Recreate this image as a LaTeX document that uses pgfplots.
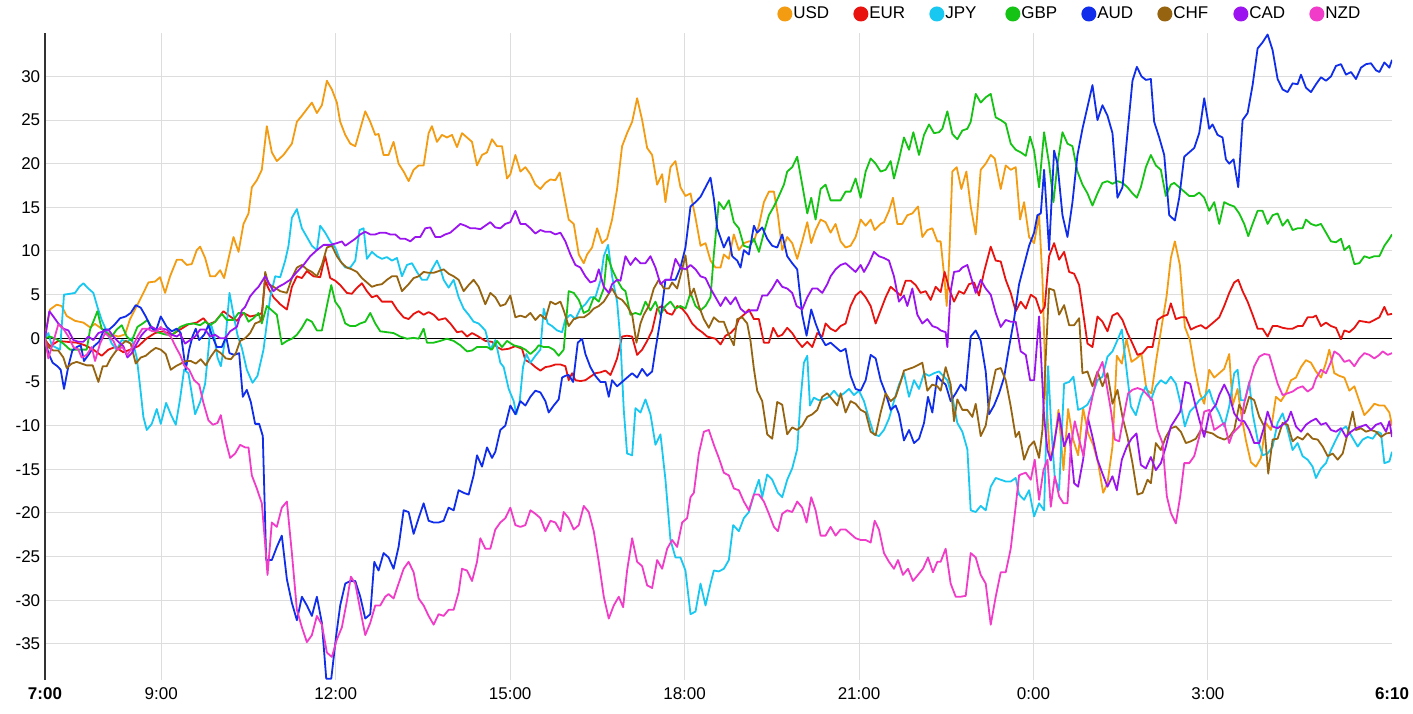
\documentclass[border=0pt]{standalone}
\usepackage{pgfplots}
\pgfplotsset{compat=1.18}
\usepackage{fontspec}
\setmainfont{Liberation Sans}
\definecolor{usd}{RGB}{243,156,18}
\definecolor{eur}{RGB}{232,18,15}
\definecolor{jpy}{RGB}{24,200,240}
\definecolor{gbp}{RGB}{20,195,20}
\definecolor{aud}{RGB}{15,45,235}
\definecolor{chf}{RGB}{150,100,16}
\definecolor{cad}{RGB}{155,20,240}
\definecolor{nzd}{RGB}{240,60,200}
\definecolor{gridgray}{RGB}{221,221,221}
\definecolor{axisgray}{RGB}{51,51,51}
\begin{document}
\begin{tikzpicture}
\useasboundingbox (0,0) rectangle (706.5pt,356.5pt);
\begin{axis}[
  at={(22.5pt,16.5pt)}, anchor=south west,
  scale only axis, width=673.5pt, height=323.5pt,
  xmin=0, xmax=23.1667, ymin=-39.14, ymax=34.97,
  axis x line*=bottom, axis y line*=left,
  x axis line style={draw=none},
  y axis line style={draw=axisgray, line width=0.8pt, -},
  major tick length=0pt,
  xtick={2,5,8,11,14,17,20},
  xticklabels={9:00,12:00,15:00,18:00,21:00,0:00,3:00},
  extra x ticks={0,23.1667},
  extra x tick labels={\textbf{7:00},\textbf{6:10}},
  extra x tick style={grid=none},
  ytick={-35,-30,-25,-20,-15,-10,-5,5,10,15,20,25,30},
  yticklabels={-35,-30,-25,-20,-15,-10,-5,5,10,15,20,25,30},
  extra y ticks={0}, extra y tick labels={0},
  extra y tick style={grid=major, major grid style={black, line width=0.5pt}},
  grid=major, major grid style={gridgray, line width=0.5pt},
  tick label style={font=\fontsize{8.5}{10}\selectfont},
  yticklabel style={anchor=east, inner sep=0pt, xshift=-2.2pt},
  xticklabel style={anchor=north, inner sep=0pt, yshift=-3.5pt},
  no markers,
  every axis plot/.append style={line width=0.9pt, line join=round},
  legend columns=-1,
  legend style={at={(0.5437,1.0294)}, anchor=west, draw=none, fill=none,
    inner sep=0pt, outer sep=0pt, column sep=0pt, row sep=0pt,
    nodes={inner sep=0pt, outer sep=0pt, text width=30.5pt, align=left, anchor=west,
      font=\fontsize{8.5}{10}\selectfont}},
  legend image code/.code={\fill[#1] (3.25pt,0pt) circle (3.3pt);},
]
% USD
\addplot[color=usd] coordinates {(0,0.2)(0.086,3.3)(0.2,3.85)(0.287,3.7)(0.373,2.56)(0.516,2.0)(0.66,1.8)(0.775,1.26)(0.86,1.64)(0.975,1.1)(1.119,0.45)(1.262,0.2)(1.377,0.45)(1.463,2.2)(1.578,3.7)(1.692,5.2)(1.779,6.4)(1.893,6.5)(1.979,7.0)(2.065,5.2)(2.151,7.1)(2.266,9.0)(2.352,9.0)(2.438,8.4)(2.524,8.5)(2.610,10.1)(2.668,10.5)(2.754,9.2)(2.840,7.1)(2.926,7.1)(3.012,7.8)(3.081,6.9)(3.155,9.1)(3.242,11.6)(3.328,9.9)(3.414,13.1)(3.500,14.3)(3.557,17.3)(3.643,18.1)(3.729,19.3)(3.815,24.3)(3.901,21.3)(3.987,20.3)(4.102,21.0)(4.246,22.3)(4.332,24.8)(4.418,25.5)(4.590,27.0)(4.676,25.8)(4.762,26.7)(4.848,29.5)(4.934,28.5)(5.020,27.0)(5.077,24.8)(5.164,23.3)(5.250,22.3)(5.336,22.0)(5.422,24.0)(5.508,26.0)(5.594,24.8)(5.680,23.3)(5.737,23.4)(5.823,21.0)(5.909,21.0)(5.995,22.5)(6.081,20.0)(6.168,19.1)(6.254,18.0)(6.340,19.3)(6.426,19.8)(6.512,19.8)(6.598,23.5)(6.655,24.3)(6.741,22.5)(6.827,23.3)(6.913,23.0)(7.000,23.3)(7.086,21.9)(7.172,23.5)(7.258,23.0)(7.344,22.5)(7.430,19.8)(7.516,21.0)(7.602,21.3)(7.688,22.8)(7.774,22.0)(7.860,22.0)(7.946,18.3)(8.003,18.8)(8.090,21.0)(8.176,19.1)(8.262,19.6)(8.348,18.8)(8.434,17.6)(8.520,17.1)(8.606,17.8)(8.692,18.2)(8.778,18.1)(8.853,19.0)(8.921,16.6)(9.007,13.6)(9.094,13.1)(9.180,9.6)(9.266,8.6)(9.323,9.6)(9.409,10.4)(9.495,12.6)(9.581,10.9)(9.667,11.4)(9.753,13.6)(9.839,17.1)(9.925,22.0)(10.011,23.5)(10.098,24.8)(10.184,27.5)(10.270,25.0)(10.356,21.8)(10.442,21.0)(10.528,17.6)(10.614,18.8)(10.671,15.6)(10.757,19.6)(10.843,20.3)(10.929,17.3)(11.015,16.3)(11.102,16.6)(11.188,13.8)(11.274,10.6)(11.360,10.9)(11.446,8.9)(11.532,8.1)(11.618,8.1)(11.675,9.6)(11.761,9.1)(11.847,11.9)(11.933,10.1)(12.019,10.9)(12.106,11.1)(12.192,11.1)(12.278,12.9)(12.364,15.6)(12.450,16.8)(12.536,16.8)(12.605,14.1)(12.679,10.1)(12.765,11.6)(12.851,10.9)(12.937,9.1)(13.023,11.1)(13.110,13.3)(13.178,10.9)(13.253,12.4)(13.339,13.6)(13.425,13.3)(13.511,12.1)(13.597,13.1)(13.683,11.1)(13.769,10.4)(13.855,10.6)(13.941,11.6)(14.028,13.6)(14.114,12.9)(14.200,13.6)(14.269,12.4)(14.372,13.1)(14.429,13.3)(14.515,14.6)(14.584,16.1)(14.659,13.1)(14.745,13.1)(14.831,14.1)(14.917,14.3)(15.014,15.1)(15.089,11.6)(15.175,12.4)(15.261,12.6)(15.347,11.1)(15.404,11.1)(15.473,6.6)(15.508,3.7)(15.548,8.6)(15.605,19.1)(15.680,19.6)(15.760,17.1)(15.846,19.1)(15.921,15.1)(16.007,11.9)(16.093,19.3)(16.179,20.0)(16.265,21.0)(16.334,20.6)(16.437,17.1)(16.523,19.8)(16.609,19.3)(16.695,19.6)(16.770,13.6)(16.839,15.6)(16.925,11.6)(17.011,10.9)(17.097,14.1)(17.155,6.7)(17.212,-5.9)(17.286,-13.9)(17.355,-12.4)(17.430,-8.2)(17.516,-15.1)(17.596,-8.1)(17.682,-11.6)(17.768,-13.4)(17.854,-8.0)(17.940,-10.9)(18.027,-12.2)(18.113,-14.3)(18.199,-17.7)(18.273,-16.6)(18.359,-12.4)(18.434,-2.0)(18.520,-2.9)(18.600,-0.1)(18.686,-2.7)(18.772,-2.3)(18.858,-1.8)(18.944,-5.9)(19.030,-6.3)(19.116,-2.3)(19.203,1.3)(19.289,4.8)(19.363,9.2)(19.432,11.1)(19.518,8.4)(19.604,1.3)(19.690,-0.2)(19.776,-3.6)(19.862,-6.3)(19.937,-7.5)(20.023,-3.6)(20.109,-4.5)(20.195,-4.0)(20.281,-3.5)(20.367,-1.8)(20.425,-7.7)(20.511,-5.8)(20.568,-8.5)(20.654,-11.7)(20.740,-14.2)(20.826,-14.7)(20.912,-13.7)(20.998,-9.7)(21.084,-10.5)(21.170,-6.7)(21.256,-7.2)(21.343,-6.3)(21.429,-4.8)(21.515,-4.5)(21.601,-3.3)(21.687,-2.5)(21.773,-2.8)(21.859,-3.8)(21.945,-4.5)(22.031,-2.8)(22.088,-1.3)(22.174,-4.0)(22.261,-4.3)(22.347,-4.5)(22.433,-6.0)(22.519,-5.5)(22.605,-7.2)(22.691,-8.8)(22.777,-8.2)(22.863,-7.5)(22.949,-7.7)(23.035,-7.7)(23.121,-8.5)(23.167,-10.0)};
\addlegendentry{\hspace*{0.5pt}USD}
% EUR
\addplot[color=eur] coordinates {(0,-0.2)(0.086,-0.9)(0.229,-0.3)(0.373,-0.4)(0.545,-0.5)(0.688,-0.8)(0.832,-1.3)(0.975,-2.0)(1.090,-1.3)(1.205,-1.0)(1.348,-1.6)(1.463,-1.3)(1.606,-0.9)(1.750,0)(1.893,0.6)(2.037,0.8)(2.180,0.4)(2.324,1.0)(2.467,1.6)(2.610,1.8)(2.725,2.3)(2.811,1.6)(2.926,1.9)(3.069,3.1)(3.184,2.5)(3.299,2.0)(3.414,2.9)(3.528,2.5)(3.672,2.7)(3.729,2.9)(3.787,6.6)(3.844,5.7)(3.930,4.7)(4.045,3.9)(4.160,3.3)(4.246,5.9)(4.332,7.1)(4.418,6.9)(4.504,7.7)(4.618,7.1)(4.733,7.0)(4.819,9.4)(4.905,6.9)(4.991,6.6)(5.077,6.1)(5.192,5.2)(5.278,5.1)(5.353,5.7)(5.450,6.3)(5.536,5.4)(5.622,4.7)(5.709,4.9)(5.795,4.2)(5.881,4.2)(5.967,4.2)(6.053,3.3)(6.168,2.4)(6.254,2.2)(6.340,2.8)(6.426,3.1)(6.512,2.7)(6.598,3.0)(6.684,2.7)(6.770,2.1)(6.885,2.3)(6.971,1.7)(7.086,0.7)(7.172,0.8)(7.258,0.2)(7.344,0.6)(7.430,0.3)(7.573,-0.3)(7.688,-0.4)(7.774,-1.0)(7.860,-1.3)(7.975,-1.2)(8.090,-0.9)(8.204,-1.2)(8.262,-2.5)(8.348,-2.8)(8.434,-3.3)(8.520,-3.7)(8.606,-3.3)(8.692,-3.2)(8.778,-3.0)(8.864,-3.0)(8.950,-3.2)(9.007,-4.8)(9.065,-4.0)(9.122,-4.8)(9.208,-4.9)(9.294,-4.8)(9.380,-4.4)(9.466,-4.0)(9.552,-3.9)(9.639,-3.7)(9.725,-4.2)(9.782,-3.3)(9.839,-2.3)(9.925,0.2)(10.011,0.3)(10.098,0.2)(10.184,-1.9)(10.270,-1.3)(10.356,-0.3)(10.442,0.9)(10.528,3.4)(10.614,3.7)(10.700,2.9)(10.786,2.7)(10.872,3.7)(10.958,3.4)(11.044,2.7)(11.130,1.7)(11.216,1.1)(11.302,0.7)(11.388,0.2)(11.532,-0.05)(11.618,-0.7)(11.704,0.3)(11.790,0.6)(11.876,1.2)(11.933,2.2)(12.019,2.7)(12.106,3.3)(12.192,2.2)(12.278,2.2)(12.364,-0.5)(12.450,-0.5)(12.524,1.2)(12.605,0.2)(12.679,0.4)(12.765,1.2)(12.851,0.6)(12.937,-0.3)(13.023,-1.0)(13.110,-0.4)(13.196,-1.0)(13.282,0.6)(13.368,0.2)(13.425,1.7)(13.511,1.1)(13.597,0.8)(13.683,1.4)(13.769,1.7)(13.855,3.7)(13.941,4.9)(14.028,5.4)(14.114,4.7)(14.200,3.7)(14.286,1.7)(14.372,3.2)(14.458,4.7)(14.544,5.9)(14.630,5.4)(14.716,4.9)(14.802,6.6)(14.888,6.6)(14.974,6.1)(15.060,5.2)(15.146,5.4)(15.232,4.4)(15.318,5.9)(15.404,5.3)(15.473,7.6)(15.548,5.7)(15.634,4.2)(15.720,5.4)(15.806,5.1)(15.892,6.2)(15.978,6.4)(16.064,4.9)(16.150,7.6)(16.265,10.5)(16.351,8.9)(16.437,8.8)(16.523,6.7)(16.609,5.2)(16.695,3.1)(16.781,4.2)(16.868,3.4)(16.954,5.0)(17.040,4.6)(17.126,2.9)(17.194,3.6)(17.269,9.4)(17.355,10.9)(17.441,9.0)(17.527,9.9)(17.614,7.6)(17.700,7.4)(17.786,6.1)(17.872,2.1)(17.929,-0.6)(18.015,-1.0)(18.101,2.5)(18.187,1.9)(18.273,0.8)(18.359,2.6)(18.445,2.9)(18.531,2.1)(18.617,0.6)(18.703,-0.6)(18.789,-1.9)(18.876,-1.7)(18.962,-1.0)(19.048,-1.0)(19.134,2.1)(19.220,2.5)(19.306,2.7)(19.363,4.0)(19.449,2.2)(19.535,2.4)(19.621,2.4)(19.707,1.0)(19.793,1.3)(19.880,1.5)(19.966,1.1)(20.109,1.9)(20.195,2.4)(20.281,3.7)(20.367,5.2)(20.453,6.4)(20.522,6.7)(20.597,5.4)(20.683,4.2)(20.769,2.7)(20.855,1.1)(20.941,1.1)(21.027,0.2)(21.113,1.4)(21.199,1.4)(21.285,1.2)(21.371,1.1)(21.457,1.1)(21.543,1.4)(21.629,1.4)(21.715,2.4)(21.801,2.4)(21.859,2.6)(21.945,1.4)(22.031,1.8)(22.117,1.4)(22.203,1.2)(22.289,-0.1)(22.347,0.9)(22.433,0.7)(22.519,1.2)(22.605,2.0)(22.691,1.9)(22.777,1.8)(22.863,2.1)(22.949,2.4)(23.035,3.6)(23.093,2.7)(23.167,2.8)};
\addlegendentry{\hspace*{0.5pt}EUR}
% JPY
\addplot[color=jpy] coordinates {(0,0)(0.057,0.6)(0.115,-0.8)(0.2,-1.1)(0.258,-1.3)(0.327,5.0)(0.430,5.1)(0.516,5.2)(0.591,5.9)(0.660,6.3)(0.746,5.7)(0.832,5.2)(0.901,3.6)(0.975,2.1)(1.061,0.8)(1.147,-0.6)(1.233,-1.3)(1.320,-0.2)(1.417,-0.4)(1.492,0)(1.578,-2.2)(1.635,-5.5)(1.692,-9.0)(1.750,-10.5)(1.836,-9.8)(1.922,-8.1)(1.991,-9.8)(2.083,-7.4)(2.169,-8.8)(2.249,-9.9)(2.324,-6.9)(2.392,-3.6)(2.467,-4.0)(2.582,-8.7)(2.668,-7.3)(2.754,-5.2)(2.811,-1.3)(2.851,1.7)(2.909,0.4)(2.966,-2.2)(3.024,-3.2)(3.110,0.4)(3.173,5.2)(3.242,2.7)(3.310,0.4)(3.385,-1.1)(3.471,-3.6)(3.569,-5.1)(3.655,-4.3)(3.758,-1.3)(3.815,1.7)(3.873,4.7)(3.959,7.1)(4.045,7.0)(4.131,8.9)(4.188,10.6)(4.246,13.8)(4.332,14.8)(4.418,12.6)(4.504,11.6)(4.590,10.6)(4.676,10.1)(4.733,12.9)(4.819,12.1)(4.905,11.1)(4.991,10.4)(5.077,8.9)(5.164,8.1)(5.250,8.1)(5.336,8.9)(5.410,12.4)(5.479,12.6)(5.536,9.1)(5.622,9.9)(5.709,9.4)(5.795,9.1)(5.881,9.3)(5.967,8.9)(6.053,9.2)(6.139,7.1)(6.225,8.4)(6.311,8.6)(6.397,7.6)(6.483,6.7)(6.569,6.7)(6.655,7.9)(6.741,8.9)(6.799,8.0)(6.856,6.7)(6.942,5.8)(7.028,6.7)(7.114,4.7)(7.200,3.4)(7.286,2.7)(7.372,1.9)(7.458,1.7)(7.573,0.9)(7.659,-1.3)(7.745,-0.2)(7.831,-2.8)(7.889,-3.3)(7.975,-5.8)(8.061,-7.2)(8.107,-8.7)(8.164,-7.2)(8.221,-3.3)(8.279,-1.8)(8.348,-2.8)(8.434,-2.0)(8.520,-1.3)(8.577,3.4)(8.646,1.7)(8.721,1.4)(8.807,0.9)(8.893,0.7)(8.950,2.2)(9.036,2.7)(9.122,2.2)(9.208,3.4)(9.294,3.9)(9.380,4.7)(9.466,4.7)(9.552,6.6)(9.610,9.4)(9.685,10.7)(9.753,7.1)(9.839,4.2)(9.897,-0.3)(9.954,-8.2)(10.011,-13.2)(10.098,-13.4)(10.155,-8.0)(10.241,-8.5)(10.327,-7.0)(10.413,-8.7)(10.499,-12.2)(10.585,-11.0)(10.671,-16.2)(10.757,-23.1)(10.843,-25.1)(10.929,-25.1)(11.015,-26.6)(11.102,-31.6)(11.188,-31.3)(11.274,-28.1)(11.360,-30.6)(11.446,-28.1)(11.503,-26.6)(11.589,-26.7)(11.675,-26.4)(11.761,-25.4)(11.836,-21.4)(11.933,-22.1)(12.019,-20.6)(12.106,-19.9)(12.192,-17.9)(12.278,-16.2)(12.335,-18.2)(12.421,-15.6)(12.507,-16.2)(12.605,-17.7)(12.679,-18.2)(12.765,-16.2)(12.851,-14.9)(12.937,-12.7)(12.995,-7.0)(13.052,-2.8)(13.110,-2.0)(13.156,-7.7)(13.224,-6.8)(13.310,-7.1)(13.396,-7.0)(13.482,-6.7)(13.569,-6.0)(13.655,-6.7)(13.741,-6.3)(13.827,-5.8)(13.913,-6.5)(13.999,-6.0)(14.085,-7.2)(14.171,-9.2)(14.257,-11.0)(14.343,-11.2)(14.429,-10.5)(14.515,-9.2)(14.601,-7.2)(14.687,-5.3)(14.773,-4.0)(14.860,-6.7)(14.946,-4.8)(15.032,-5.8)(15.118,-4.0)(15.204,-4.3)(15.290,-4.0)(15.376,-3.8)(15.519,-4.8)(15.605,-6.7)(15.691,-9.7)(15.777,-10.7)(15.863,-12.7)(15.921,-19.7)(16.007,-19.9)(16.093,-19.2)(16.179,-19.7)(16.265,-17.0)(16.351,-16.0)(16.437,-16.2)(16.523,-16.4)(16.609,-16.4)(16.695,-16.0)(16.753,-17.9)(16.839,-18.5)(16.925,-17.4)(17.011,-20.4)(17.097,-18.9)(17.183,-19.7)(17.252,-3.2)(17.309,-10.5)(17.367,-16.0)(17.441,-17.4)(17.527,-5.2)(17.614,-5.0)(17.688,-4.4)(17.768,-8.2)(17.843,-8.0)(17.929,-7.6)(18.015,-6.5)(18.101,-4.8)(18.187,-4.4)(18.273,-2.1)(18.359,-1.5)(18.445,-0.2)(18.520,1.0)(18.589,-2.9)(18.675,-7.8)(18.761,-8.8)(18.847,-6.7)(18.933,-5.5)(19.019,-7.1)(19.105,-5.5)(19.191,-4.8)(19.277,-5.2)(19.363,-4.4)(19.449,-5.2)(19.524,-7.3)(19.604,-10.1)(19.690,-8.4)(19.776,-7.8)(19.851,-7.1)(19.937,-6.7)(20.023,-5.9)(20.080,-7.1)(20.195,-8.6)(20.281,-10.1)(20.367,-7.8)(20.453,-4.0)(20.511,-3.6)(20.568,-7.1)(20.637,-7.1)(20.711,-5.0)(20.769,-8.6)(20.855,-11.6)(20.941,-13.4)(21.027,-13.2)(21.113,-12.4)(21.199,-9.7)(21.285,-8.6)(21.371,-10.5)(21.457,-12.8)(21.543,-12.0)(21.629,-13.5)(21.715,-13.9)(21.801,-14.7)(21.859,-16.0)(21.945,-14.9)(22.031,-14.3)(22.117,-12.8)(22.203,-11.6)(22.289,-10.5)(22.375,-10.1)(22.461,-11.1)(22.576,-12.4)(22.662,-11.6)(22.748,-11.3)(22.834,-11.5)(22.920,-10.7)(22.978,-10.9)(23.035,-14.3)(23.121,-14.1)(23.167,-13.0)};
\addlegendentry{\hspace*{0.5pt}JPY}
% GBP
\addplot[color=gbp] coordinates {(0,0)(0.086,0.2)(0.2,-0.1)(0.316,-0.6)(0.430,-1.3)(0.545,-1.3)(0.631,-1.3)(0.717,-1.3)(0.775,1.0)(0.843,2.1)(0.901,3.1)(0.975,1.1)(1.061,0.6)(1.147,0.2)(1.233,1.0)(1.320,1.5)(1.406,0.2)(1.492,-0.3)(1.589,1.3)(1.681,1.7)(1.761,2.1)(1.865,0.9)(1.979,0.6)(2.094,0.4)(2.209,0.5)(2.324,1.3)(2.438,1.6)(2.553,1.7)(2.668,1.5)(2.754,1.9)(2.840,1.5)(2.926,1.9)(3.041,2.8)(3.127,2.1)(3.241,2.1)(3.328,2.9)(3.425,2.9)(3.500,1.9)(3.586,2.3)(3.672,2.9)(3.729,1.7)(3.815,3.7)(3.901,3.2)(3.987,2.7)(4.073,-0.7)(4.160,-0.3)(4.246,-0.05)(4.332,0.4)(4.418,1.2)(4.504,2.2)(4.590,1.9)(4.676,0.9)(4.762,0.9)(4.848,3.7)(4.923,6.1)(4.991,4.2)(5.077,3.4)(5.164,1.7)(5.250,1.4)(5.336,1.4)(5.422,1.7)(5.508,1.9)(5.594,2.9)(5.680,1.7)(5.766,0.8)(5.881,0.7)(5.995,0.6)(6.110,0.2)(6.225,-0.05)(6.340,0.05)(6.426,-0.05)(6.512,1.1)(6.569,-0.5)(6.684,-0.5)(6.799,-0.3)(6.913,-0.05)(7.028,-0.3)(7.143,-0.8)(7.258,-1.5)(7.344,-1.4)(7.430,-1.0)(7.602,-1.0)(7.688,-1.3)(7.774,-0.3)(7.860,-1.0)(7.946,-0.3)(8.061,-0.8)(8.176,-1.0)(8.262,-1.3)(8.348,-1.8)(8.434,-1.3)(8.491,-0.8)(8.577,-1.0)(8.663,-1.0)(8.749,-1.3)(8.835,-2.0)(8.921,-1.3)(9.007,5.4)(9.094,5.2)(9.180,4.4)(9.266,2.9)(9.352,3.2)(9.438,4.7)(9.524,4.2)(9.610,5.7)(9.667,9.6)(9.753,7.9)(9.839,6.7)(9.925,5.7)(9.983,5.4)(10.069,2.7)(10.155,2.9)(10.241,2.7)(10.327,4.2)(10.413,3.2)(10.499,4.2)(10.585,2.7)(10.671,3.7)(10.757,4.2)(10.843,3.4)(10.929,3.7)(11.015,3.4)(11.102,5.2)(11.188,3.7)(11.274,3.2)(11.360,3.7)(11.446,4.7)(11.503,9.6)(11.589,15.6)(11.675,14.8)(11.761,15.8)(11.847,13.3)(11.933,12.6)(12.019,10.6)(12.106,10.4)(12.192,11.4)(12.278,9.9)(12.364,12.1)(12.450,14.1)(12.536,15.1)(12.622,16.3)(12.708,17.6)(12.765,19.1)(12.851,19.6)(12.937,20.8)(13.023,17.6)(13.110,14.3)(13.178,16.1)(13.253,13.6)(13.339,17.1)(13.425,17.6)(13.511,15.8)(13.597,15.8)(13.683,15.8)(13.769,16.8)(13.855,16.8)(13.941,18.3)(14.028,16.1)(14.114,19.1)(14.200,20.6)(14.286,20.0)(14.372,19.1)(14.458,19.3)(14.544,20.3)(14.601,18.3)(14.687,20.5)(14.773,23.0)(14.860,21.6)(14.934,23.6)(15.032,21.0)(15.118,23.3)(15.204,24.5)(15.290,23.5)(15.376,23.6)(15.433,24.0)(15.519,26.0)(15.605,23.4)(15.691,22.8)(15.777,23.8)(15.863,24.0)(15.921,24.8)(16.007,28.0)(16.093,27.0)(16.179,27.6)(16.265,28.0)(16.351,25.3)(16.437,25.0)(16.523,24.6)(16.609,22.3)(16.695,21.6)(16.781,21.3)(16.868,20.9)(16.942,23.1)(17.011,21.5)(17.097,17.3)(17.183,23.6)(17.269,20.0)(17.344,15.6)(17.413,20.0)(17.499,23.6)(17.585,22.3)(17.671,22.0)(17.757,19.1)(17.843,17.6)(17.929,16.6)(18.015,15.2)(18.101,16.6)(18.187,17.8)(18.273,18.0)(18.359,17.7)(18.445,18.0)(18.531,17.8)(18.617,17.3)(18.703,16.6)(18.778,16.1)(18.847,17.3)(18.933,19.6)(19.019,21.0)(19.105,19.8)(19.191,19.3)(19.277,16.3)(19.363,17.6)(19.420,17.8)(19.507,17.3)(19.593,16.8)(19.679,16.3)(19.765,16.3)(19.851,16.7)(19.937,16.1)(20.023,14.6)(20.109,15.6)(20.195,13.1)(20.281,15.6)(20.367,15.3)(20.453,15.1)(20.539,14.3)(20.625,13.1)(20.694,11.7)(20.769,13.1)(20.855,14.6)(20.941,14.6)(21.027,13.1)(21.113,14.1)(21.199,14.3)(21.285,12.9)(21.371,13.6)(21.457,12.4)(21.543,12.6)(21.629,12.6)(21.687,13.6)(21.773,13.1)(21.859,12.9)(21.945,13.1)(22.031,12.1)(22.117,11.1)(22.203,11.0)(22.289,11.4)(22.347,10.1)(22.433,10.6)(22.519,8.5)(22.605,8.6)(22.691,9.4)(22.777,9.2)(22.863,9.4)(22.949,9.4)(23.035,10.6)(23.121,11.4)(23.167,11.9)};
\addlegendentry{\hspace*{0.5pt}GBP}
% AUD
\addplot[color=aud] coordinates {(0,0)(0.057,-1.7)(0.132,-2.8)(0.212,-3.2)(0.270,-3.6)(0.327,-5.8)(0.402,-3.2)(0.470,-1.4)(0.545,-1.0)(0.614,-0.8)(0.671,-2.6)(0.757,-1.8)(0.843,-0.9)(0.929,-0.4)(1.016,1.0)(1.102,1.0)(1.188,1.5)(1.291,2.3)(1.388,2.5)(1.474,2.9)(1.561,3.8)(1.647,3.5)(1.733,2.5)(1.819,1.3)(1.905,0.8)(1.991,2.5)(2.094,1.3)(2.180,0.8)(2.266,1.1)(2.335,0.6)(2.421,-3.6)(2.479,-1.3)(2.536,0.2)(2.593,1.1)(2.651,-0.2)(2.737,0.4)(2.811,1.5)(2.880,0.2)(2.955,-1.0)(3.041,-1.0)(3.115,0.2)(3.173,-1.7)(3.253,-1.9)(3.339,-1.7)(3.402,-6.7)(3.471,-5.9)(3.540,-7.3)(3.614,-9.8)(3.683,-9.8)(3.746,-11.2)(3.804,-25.4)(3.901,-25.4)(3.987,-23.9)(4.073,-22.6)(4.160,-27.6)(4.246,-30.3)(4.332,-32.3)(4.418,-29.6)(4.504,-30.6)(4.590,-31.8)(4.676,-29.6)(4.762,-32.6)(4.837,-39.0)(4.923,-39.0)(5.009,-34.0)(5.077,-30.6)(5.164,-28.1)(5.250,-27.8)(5.336,-27.8)(5.422,-29.6)(5.508,-32.1)(5.594,-31.6)(5.663,-25.6)(5.737,-26.6)(5.823,-24.6)(5.909,-25.1)(5.995,-26.4)(6.081,-23.9)(6.168,-19.7)(6.254,-19.9)(6.340,-22.4)(6.426,-20.6)(6.512,-18.9)(6.598,-20.9)(6.684,-21.1)(6.770,-21.1)(6.856,-20.9)(6.942,-19.4)(7.028,-19.7)(7.114,-17.4)(7.200,-17.7)(7.286,-17.9)(7.372,-15.7)(7.430,-13.4)(7.516,-14.7)(7.602,-12.5)(7.688,-13.7)(7.745,-13.0)(7.831,-10.5)(7.917,-10.0)(8.003,-7.7)(8.090,-8.7)(8.176,-7.2)(8.262,-7.7)(8.348,-6.7)(8.434,-6.0)(8.520,-6.2)(8.606,-7.2)(8.663,-8.5)(8.749,-7.7)(8.835,-7.0)(8.893,-4.5)(8.950,-4.3)(9.007,-4.2)(9.082,-5.0)(9.163,-0.5)(9.237,-0.05)(9.294,-1.8)(9.380,-3.3)(9.466,-4.3)(9.552,-5.0)(9.639,-5.0)(9.696,-6.7)(9.753,-4.8)(9.839,-5.5)(9.925,-5.0)(10.011,-4.5)(10.098,-4.0)(10.184,-4.5)(10.270,-3.5)(10.356,-4.3)(10.442,-3.8)(10.499,-1.3)(10.585,2.2)(10.671,6.7)(10.757,6.7)(10.843,6.7)(10.929,8.1)(11.015,10.4)(11.102,15.1)(11.188,15.6)(11.274,16.2)(11.360,17.3)(11.446,18.4)(11.503,16.0)(11.561,12.6)(11.675,10.4)(11.761,11.6)(11.819,9.4)(11.905,8.9)(11.962,8.1)(12.019,10.1)(12.106,9.6)(12.192,12.9)(12.249,12.1)(12.335,12.7)(12.421,11.4)(12.507,10.6)(12.593,10.4)(12.679,11.9)(12.765,9.4)(12.851,8.6)(12.937,7.9)(13.023,2.7)(13.098,0.3)(13.178,3.3)(13.253,1.7)(13.339,0.2)(13.425,-0.8)(13.511,-0.5)(13.597,-1.0)(13.683,-1.5)(13.769,-1.2)(13.855,-4.3)(13.941,-5.8)(14.028,-6.0)(14.114,-4.8)(14.200,-1.9)(14.286,-2.3)(14.372,-4.8)(14.458,-6.3)(14.544,-8.2)(14.630,-7.7)(14.687,-8.7)(14.773,-11.7)(14.860,-10.5)(14.946,-12.0)(15.032,-11.5)(15.118,-9.7)(15.186,-6.7)(15.261,-8.5)(15.347,-4.3)(15.404,-4.8)(15.490,-5.3)(15.576,-7.2)(15.663,-6.3)(15.749,-5.3)(15.835,-6.0)(15.921,0.2)(16.007,0.9)(16.093,-0.3)(16.179,-3.8)(16.236,-8.7)(16.322,-7.7)(16.408,-6.3)(16.494,-4.5)(16.581,-1.0)(16.667,2.2)(16.753,6.2)(16.839,8.4)(16.925,10.6)(17.011,12.1)(17.068,14.1)(17.126,14.3)(17.183,19.3)(17.269,10.1)(17.355,21.5)(17.413,20.0)(17.499,14.1)(17.585,11.6)(17.671,15.6)(17.757,21.0)(17.843,24.0)(17.929,26.5)(18.015,29.0)(18.101,25.0)(18.187,26.7)(18.273,25.5)(18.359,23.5)(18.445,16.1)(18.531,17.3)(18.617,23.5)(18.703,29.5)(18.778,31.1)(18.858,30.0)(18.933,29.6)(19.019,29.7)(19.076,24.8)(19.163,23.0)(19.249,21.0)(19.335,14.1)(19.432,13.5)(19.507,16.1)(19.593,20.8)(19.679,21.3)(19.765,21.8)(19.851,23.5)(19.937,27.5)(20.023,24.0)(20.080,24.5)(20.166,23.3)(20.252,23.0)(20.310,20.5)(20.367,20.0)(20.442,20.5)(20.522,17.3)(20.597,25.0)(20.683,25.8)(20.769,29.0)(20.855,33.2)(20.941,33.9)(21.027,34.8)(21.113,33.0)(21.199,29.7)(21.285,28.5)(21.371,28.2)(21.457,29.2)(21.543,29.1)(21.601,30.2)(21.687,28.7)(21.773,28.2)(21.859,29.1)(21.945,29.9)(22.031,29.5)(22.117,30.0)(22.203,31.2)(22.289,31.4)(22.375,30.2)(22.461,30.5)(22.547,29.7)(22.633,31.0)(22.719,31.4)(22.805,31.5)(22.891,30.7)(22.949,30.5)(23.035,31.6)(23.121,31.0)(23.167,31.9)};
\addlegendentry{\hspace*{0.5pt}AUD}
% CHF
\addplot[color=chf] coordinates {(0,0)(0.057,-1.0)(0.143,-1.4)(0.229,-1.4)(0.316,-2.2)(0.373,-3.4)(0.459,-2.9)(0.545,-2.7)(0.631,-2.9)(0.717,-3.1)(0.820,-3.1)(0.918,-5.0)(0.993,-3.2)(1.061,-3.2)(1.130,-2.3)(1.216,-1.5)(1.302,-0.8)(1.388,-0.3)(1.474,-0.6)(1.561,-2.9)(1.647,-2.2)(1.733,-2.0)(1.819,-1.5)(1.905,-1.1)(1.991,-1.3)(2.077,-1.8)(2.163,-3.6)(2.249,-3.2)(2.335,-2.9)(2.421,-2.6)(2.507,-2.6)(2.593,-2.9)(2.679,-2.4)(2.765,-3.1)(2.851,-2.1)(2.937,-1.3)(3.024,-1.7)(3.110,-2.3)(3.196,-2.4)(3.282,-1.7)(3.356,-0.3)(3.442,0)(3.528,0.6)(3.614,1.7)(3.689,1.9)(3.729,2.2)(3.787,7.6)(3.844,6.2)(3.930,5.9)(4.045,5.4)(4.160,5.2)(4.246,6.9)(4.332,8.1)(4.418,8.4)(4.504,7.9)(4.590,7.6)(4.676,7.1)(4.762,8.4)(4.848,10.4)(4.934,10.6)(5.020,9.4)(5.106,8.6)(5.192,8.1)(5.278,7.9)(5.364,7.6)(5.450,6.9)(5.536,6.4)(5.622,5.9)(5.709,6.1)(5.795,6.2)(5.881,6.7)(5.967,7.1)(6.053,7.1)(6.139,5.4)(6.254,6.2)(6.340,6.9)(6.426,7.1)(6.512,7.6)(6.598,7.5)(6.684,7.5)(6.770,7.7)(6.856,7.9)(6.942,7.4)(7.028,7.1)(7.114,6.7)(7.200,5.4)(7.286,6.1)(7.372,6.7)(7.458,5.9)(7.573,3.9)(7.659,5.2)(7.745,4.7)(7.831,3.7)(7.917,3.9)(8.003,4.9)(8.090,2.4)(8.176,2.6)(8.262,2.4)(8.348,2.9)(8.434,2.1)(8.520,2.7)(8.606,2.2)(8.692,4.2)(8.778,3.9)(8.864,4.2)(8.921,3.2)(9.007,1.4)(9.094,2.2)(9.180,2.4)(9.266,2.4)(9.352,2.8)(9.438,3.4)(9.524,3.7)(9.610,4.2)(9.667,4.8)(9.753,5.7)(9.839,4.7)(9.925,4.4)(10.011,3.7)(10.098,2.7)(10.172,-0.5)(10.241,1.7)(10.298,2.7)(10.384,3.7)(10.470,5.7)(10.556,6.7)(10.643,5.7)(10.729,5.7)(10.786,6.4)(10.872,5.7)(10.958,7.9)(11.015,9.5)(11.102,4.9)(11.159,5.7)(11.245,3.7)(11.331,2.2)(11.417,1.2)(11.503,2.4)(11.589,1.9)(11.675,1.9)(11.761,0.4)(11.847,-0.8)(11.905,2.2)(11.991,2.4)(12.077,1.7)(12.134,-0.3)(12.192,-3.5)(12.249,-6.0)(12.335,-7.2)(12.421,-11.0)(12.507,-11.5)(12.593,-7.3)(12.679,-7.6)(12.765,-11.0)(12.851,-10.2)(12.937,-10.5)(13.023,-10.0)(13.110,-9.0)(13.196,-8.7)(13.282,-8.2)(13.368,-6.7)(13.454,-6.3)(13.540,-7.0)(13.626,-7.7)(13.683,-6.3)(13.769,-8.5)(13.855,-7.2)(13.941,-7.5)(14.028,-8.2)(14.114,-8.5)(14.200,-10.7)(14.286,-11.1)(14.372,-8.5)(14.458,-6.3)(14.544,-7.2)(14.630,-6.7)(14.716,-5.0)(14.773,-3.7)(14.860,-3.5)(14.946,-3.3)(15.032,-3.0)(15.089,-2.8)(15.175,-6.0)(15.261,-5.3)(15.347,-5.5)(15.404,-6.0)(15.490,-3.3)(15.576,-5.3)(15.634,-9.5)(15.691,-7.0)(15.777,-8.2)(15.863,-8.2)(15.949,-9.0)(16.007,-7.5)(16.093,-11.2)(16.179,-10.0)(16.265,-6.3)(16.351,-3.6)(16.437,-3.4)(16.523,-4.8)(16.609,-7.8)(16.695,-11.3)(16.753,-10.7)(16.839,-13.9)(16.925,-12.4)(17.011,-11.8)(17.097,-13.7)(17.154,-10.5)(17.212,-2.1)(17.269,5.7)(17.355,5.5)(17.441,2.7)(17.527,3.8)(17.614,1.5)(17.700,1.5)(17.786,2.3)(17.843,-4.0)(17.929,-3.8)(18.015,-5.5)(18.101,-3.8)(18.187,-5.5)(18.273,-4.0)(18.359,-7.5)(18.445,-5.9)(18.531,-9.0)(18.617,-11.3)(18.703,-14.3)(18.789,-17.9)(18.876,-17.7)(18.962,-16.2)(19.019,-16.6)(19.105,-12.0)(19.191,-12.8)(19.277,-11.3)(19.363,-10.3)(19.449,-10.1)(19.535,-10.7)(19.621,-12.0)(19.707,-11.8)(19.793,-11.5)(19.880,-10.5)(19.966,-10.7)(20.080,-10.9)(20.166,-11.3)(20.281,-11.6)(20.367,-11.3)(20.453,-10.5)(20.539,-7.6)(20.625,-8.6)(20.711,-6.7)(20.797,-7.1)(20.884,-9.0)(20.970,-10.1)(21.038,-15.5)(21.113,-11.6)(21.199,-11.5)(21.285,-9.7)(21.371,-9.9)(21.457,-11.8)(21.543,-11.3)(21.629,-11.6)(21.715,-10.9)(21.801,-11.5)(21.888,-11.6)(21.974,-12.4)(22.060,-13.5)(22.146,-13.2)(22.232,-13.9)(22.318,-13.2)(22.404,-10.9)(22.490,-8.4)(22.547,-10.5)(22.633,-10.3)(22.719,-10.7)(22.805,-10.5)(22.891,-10.7)(22.978,-11.3)(23.064,-10.9)(23.167,-10.8)};
\addlegendentry{\hspace*{0.5pt}CHF}
% CAD
\addplot[color=cad] coordinates {(0,0)(0.075,3.1)(0.143,2.5)(0.229,1.7)(0.316,1.1)(0.402,0.9)(0.488,-0.2)(0.574,-0.4)(0.660,-0.4)(0.746,0.2)(0.832,-0.2)(0.918,0.6)(1.004,0.8)(1.090,1.0)(1.176,0.2)(1.262,-0.4)(1.348,-0.9)(1.417,-2.2)(1.492,-1.7)(1.578,-0.6)(1.664,0.4)(1.750,1.0)(1.836,1.3)(1.922,1.0)(2.008,1.1)(2.094,1.0)(2.180,0.4)(2.266,0.2)(2.324,0.5)(2.410,-0.6)(2.496,-0.2)(2.582,0.2)(2.668,1.0)(2.754,1.0)(2.840,0.2)(2.926,0.4)(3.012,0)(3.098,0)(3.184,0.8)(3.299,1.3)(3.385,3.2)(3.442,3.6)(3.528,4.8)(3.614,5.5)(3.672,5.9)(3.787,7.1)(3.861,6.2)(3.930,5.4)(4.016,5.9)(4.102,6.2)(4.217,6.7)(4.332,7.6)(4.446,8.4)(4.561,9.4)(4.676,10.1)(4.791,10.7)(4.905,10.7)(5.020,10.9)(5.106,11.1)(5.164,10.6)(5.250,11.0)(5.336,11.4)(5.422,11.9)(5.508,12.2)(5.594,11.9)(5.680,11.9)(5.766,12.1)(5.852,12.1)(5.938,11.9)(6.024,11.9)(6.110,11.4)(6.196,11.4)(6.282,11.1)(6.368,11.6)(6.454,11.6)(6.540,12.6)(6.627,12.7)(6.713,11.6)(6.799,11.6)(6.885,11.9)(6.971,12.1)(7.057,12.6)(7.143,13.1)(7.229,12.9)(7.315,12.6)(7.401,12.6)(7.487,12.5)(7.573,12.9)(7.659,13.3)(7.745,12.7)(7.831,12.6)(7.917,13.1)(8.003,13.3)(8.090,14.6)(8.176,13.1)(8.262,13.1)(8.348,12.6)(8.434,12.0)(8.520,12.4)(8.606,12.2)(8.692,12.2)(8.778,11.9)(8.864,12.1)(8.950,11.1)(9.036,9.6)(9.122,8.4)(9.208,8.1)(9.294,7.1)(9.380,6.4)(9.466,6.6)(9.524,7.9)(9.610,5.9)(9.696,5.2)(9.753,6.2)(9.839,6.7)(9.897,6.6)(9.983,9.4)(10.069,8.4)(10.155,9.2)(10.241,8.6)(10.327,8.6)(10.413,9.4)(10.499,8.1)(10.585,6.2)(10.671,6.7)(10.757,6.7)(10.843,9.1)(10.929,8.1)(11.015,7.9)(11.102,8.4)(11.188,7.9)(11.274,7.1)(11.360,6.9)(11.446,5.7)(11.532,4.7)(11.618,3.7)(11.704,4.7)(11.790,3.9)(11.876,4.7)(11.962,3.4)(12.048,2.9)(12.134,3.2)(12.249,3.2)(12.335,4.9)(12.421,4.9)(12.507,5.7)(12.593,6.7)(12.679,5.9)(12.765,5.7)(12.851,5.2)(12.926,3.7)(13.023,3.3)(13.110,4.7)(13.196,5.7)(13.282,5.7)(13.368,5.2)(13.454,6.2)(13.511,7.1)(13.597,7.9)(13.683,8.4)(13.769,8.6)(13.855,8.1)(13.941,7.6)(14.028,8.4)(14.085,7.6)(14.171,8.6)(14.257,9.9)(14.343,9.4)(14.429,9.2)(14.515,8.9)(14.601,7.1)(14.687,4.2)(14.773,4.9)(14.831,3.7)(14.917,5.7)(15.003,2.7)(15.089,1.7)(15.175,2.2)(15.261,1.4)(15.347,1.2)(15.404,0.9)(15.490,0.7)(15.519,-1.0)(15.576,5.4)(15.634,7.6)(15.720,7.7)(15.777,8.1)(15.863,8.4)(15.921,7.1)(16.007,5.2)(16.093,6.7)(16.179,5.7)(16.265,5.0)(16.351,2.9)(16.437,1.3)(16.523,2.1)(16.609,1.9)(16.695,1.9)(16.781,-1.5)(16.868,-1.9)(16.942,-4.8)(17.011,-4.8)(17.097,2.5)(17.137,-2.9)(17.183,-9.0)(17.241,-12.8)(17.298,-14.0)(17.355,-12.0)(17.441,-8.6)(17.527,-12.4)(17.614,-10.9)(17.700,-16.6)(17.768,-17.0)(17.854,-13.9)(17.940,-9.2)(18.015,-11.3)(18.101,-13.9)(18.187,-15.5)(18.273,-17.0)(18.359,-15.8)(18.434,-17.4)(18.520,-13.9)(18.606,-12.4)(18.686,-11.5)(18.772,-10.9)(18.847,-14.5)(18.933,-14.9)(19.019,-13.6)(19.105,-15.1)(19.191,-14.3)(19.277,-12.4)(19.363,-10.1)(19.449,-9.2)(19.524,-8.4)(19.610,-5.0)(19.696,-5.2)(19.776,-7.4)(19.851,-9.3)(19.937,-11.3)(20.023,-8.6)(20.138,-7.6)(20.195,-6.5)(20.281,-5.3)(20.367,-6.5)(20.453,-8.6)(20.539,-9.4)(20.625,-9.5)(20.711,-10.5)(20.797,-12.0)(20.884,-12.0)(20.970,-10.1)(21.027,-8.4)(21.113,-10.1)(21.199,-10.3)(21.285,-9.9)(21.371,-9.4)(21.429,-8.4)(21.515,-10.1)(21.601,-10.7)(21.687,-9.9)(21.773,-9.5)(21.859,-9.2)(21.945,-9.9)(22.031,-9.7)(22.117,-10.5)(22.203,-10.7)(22.289,-10.3)(22.375,-11.3)(22.461,-10.7)(22.547,-10.3)(22.633,-10.1)(22.719,-9.9)(22.805,-10.5)(22.891,-9.9)(22.978,-9.7)(23.064,-10.7)(23.121,-9.5)(23.167,-11.3)};
\addlegendentry{\hspace*{0.5pt}CAD}
% NZD
\addplot[color=nzd] coordinates {(0,0)(0.057,-2.3)(0.143,-0.4)(0.229,1.6)(0.316,1.1)(0.402,0.2)(0.488,-1.0)(0.574,-1.3)(0.631,-2.2)(0.717,-1.9)(0.803,-1.0)(0.861,-2.6)(0.947,-0.6)(1.033,0.6)(1.102,0.2)(1.176,-0.3)(1.245,-1.3)(1.331,-1.0)(1.417,-1.9)(1.503,-1.0)(1.589,0.2)(1.675,1.1)(1.761,1.1)(1.847,0.8)(1.922,0.8)(1.991,1.3)(2.077,0.6)(2.163,0.2)(2.249,-1.0)(2.324,-1.9)(2.392,-3.1)(2.479,-3.6)(2.565,-4.8)(2.651,-5.3)(2.725,-7.4)(2.811,-9.4)(2.886,-9.9)(2.966,-9.7)(3.024,-8.8)(3.098,-11.5)(3.184,-13.7)(3.270,-13.2)(3.356,-12.2)(3.442,-12.5)(3.500,-12.5)(3.557,-15.7)(3.643,-17.2)(3.729,-18.9)(3.787,-23.6)(3.827,-27.1)(3.901,-21.1)(3.987,-21.6)(4.073,-19.4)(4.160,-18.7)(4.246,-24.6)(4.332,-31.1)(4.418,-33.1)(4.504,-34.8)(4.590,-34.0)(4.676,-31.8)(4.762,-32.8)(4.848,-36.0)(4.934,-36.5)(5.020,-34.5)(5.106,-33.1)(5.192,-30.1)(5.261,-27.3)(5.336,-28.1)(5.422,-31.1)(5.508,-34.0)(5.594,-32.6)(5.680,-30.6)(5.766,-30.6)(5.852,-29.6)(5.909,-29.3)(5.995,-29.8)(6.081,-28.1)(6.168,-26.4)(6.254,-25.6)(6.340,-26.8)(6.426,-29.8)(6.512,-30.6)(6.598,-31.8)(6.684,-32.8)(6.770,-31.6)(6.856,-31.8)(6.942,-31.1)(7.028,-31.1)(7.114,-29.1)(7.172,-26.4)(7.258,-26.6)(7.344,-27.8)(7.430,-25.6)(7.487,-22.9)(7.573,-24.1)(7.659,-24.1)(7.745,-21.9)(7.831,-21.1)(7.917,-20.6)(8.003,-19.4)(8.090,-21.4)(8.176,-21.6)(8.262,-21.4)(8.348,-19.7)(8.434,-20.1)(8.520,-20.6)(8.606,-22.1)(8.692,-20.9)(8.778,-21.1)(8.864,-22.1)(8.921,-19.9)(9.007,-20.6)(9.094,-21.9)(9.180,-21.4)(9.266,-19.2)(9.352,-19.9)(9.438,-22.1)(9.524,-25.6)(9.610,-29.6)(9.696,-32.1)(9.782,-30.6)(9.868,-29.6)(9.943,-30.8)(10.011,-26.6)(10.098,-22.9)(10.184,-25.6)(10.270,-26.1)(10.356,-28.3)(10.442,-28.6)(10.528,-25.4)(10.614,-26.4)(10.700,-24.1)(10.786,-23.1)(10.872,-23.9)(10.958,-21.1)(11.044,-20.6)(11.102,-18.2)(11.159,-17.7)(11.245,-13.2)(11.331,-10.7)(11.417,-10.5)(11.503,-12.2)(11.589,-13.7)(11.675,-15.4)(11.761,-15.7)(11.847,-17.2)(11.933,-17.4)(12.019,-18.7)(12.106,-19.7)(12.192,-17.9)(12.278,-17.9)(12.364,-18.7)(12.450,-20.1)(12.536,-21.6)(12.605,-22.1)(12.679,-20.1)(12.765,-19.7)(12.851,-19.9)(12.937,-18.7)(13.023,-19.4)(13.098,-21.1)(13.178,-18.2)(13.253,-19.7)(13.339,-22.6)(13.425,-22.6)(13.511,-21.6)(13.597,-22.6)(13.683,-21.9)(13.769,-21.9)(13.855,-22.4)(13.941,-22.9)(14.028,-23.1)(14.114,-23.1)(14.200,-23.4)(14.269,-20.9)(14.343,-21.9)(14.429,-24.6)(14.515,-25.6)(14.601,-26.4)(14.670,-25.4)(14.756,-27.1)(14.842,-26.4)(14.928,-27.8)(15.014,-27.1)(15.100,-26.4)(15.186,-25.1)(15.272,-26.8)(15.347,-25.6)(15.404,-25.6)(15.490,-24.1)(15.576,-28.1)(15.663,-29.6)(15.749,-29.6)(15.835,-29.5)(15.921,-24.6)(16.007,-25.1)(16.093,-27.1)(16.179,-28.1)(16.265,-32.8)(16.351,-29.6)(16.437,-26.8)(16.523,-26.8)(16.609,-24.1)(16.695,-19.2)(16.753,-15.7)(16.781,-15.6)(16.868,-15.4)(16.954,-16.2)(17.022,-13.9)(17.097,-18.5)(17.172,-15.1)(17.241,-13.9)(17.298,-19.3)(17.367,-15.8)(17.441,-18.1)(17.516,-18.9)(17.585,-18.9)(17.642,-12.4)(17.711,-9.5)(17.786,-11.6)(17.860,-13.5)(17.929,-9.4)(18.015,-6.7)(18.101,-4.0)(18.187,-2.7)(18.262,-5.5)(18.331,-8.2)(18.399,-11.6)(18.474,-11.8)(18.549,-9.0)(18.629,-6.3)(18.703,-5.9)(18.789,-5.7)(18.876,-5.9)(18.962,-6.5)(19.048,-7.1)(19.134,-10.5)(19.220,-12.0)(19.294,-18.1)(19.363,-20.0)(19.449,-21.2)(19.524,-18.1)(19.593,-14.3)(19.679,-14.3)(19.765,-13.5)(19.851,-11.3)(19.937,-8.4)(20.023,-8.2)(20.109,-10.5)(20.195,-10.1)(20.281,-9.7)(20.367,-12.0)(20.425,-10.9)(20.482,-10.5)(20.568,-9.9)(20.625,-7.4)(20.711,-5.2)(20.797,-3.2)(20.884,-2.1)(20.970,-1.8)(21.056,-1.9)(21.113,-3.2)(21.199,-5.2)(21.285,-6.5)(21.371,-6.3)(21.457,-6.1)(21.543,-5.7)(21.629,-5.5)(21.715,-6.1)(21.801,-5.7)(21.859,-4.6)(21.945,-3.6)(22.031,-4.0)(22.117,-2.7)(22.175,-1.5)(22.261,-1.9)(22.347,-2.7)(22.433,-2.5)(22.519,-3.2)(22.605,-2.3)(22.691,-1.7)(22.777,-1.9)(22.863,-2.3)(22.949,-1.9)(23.006,-1.5)(23.093,-1.9)(23.167,-1.7)};
\addlegendentry{\hspace*{0.5pt}NZD}
\end{axis}
\end{tikzpicture}
\end{document}
